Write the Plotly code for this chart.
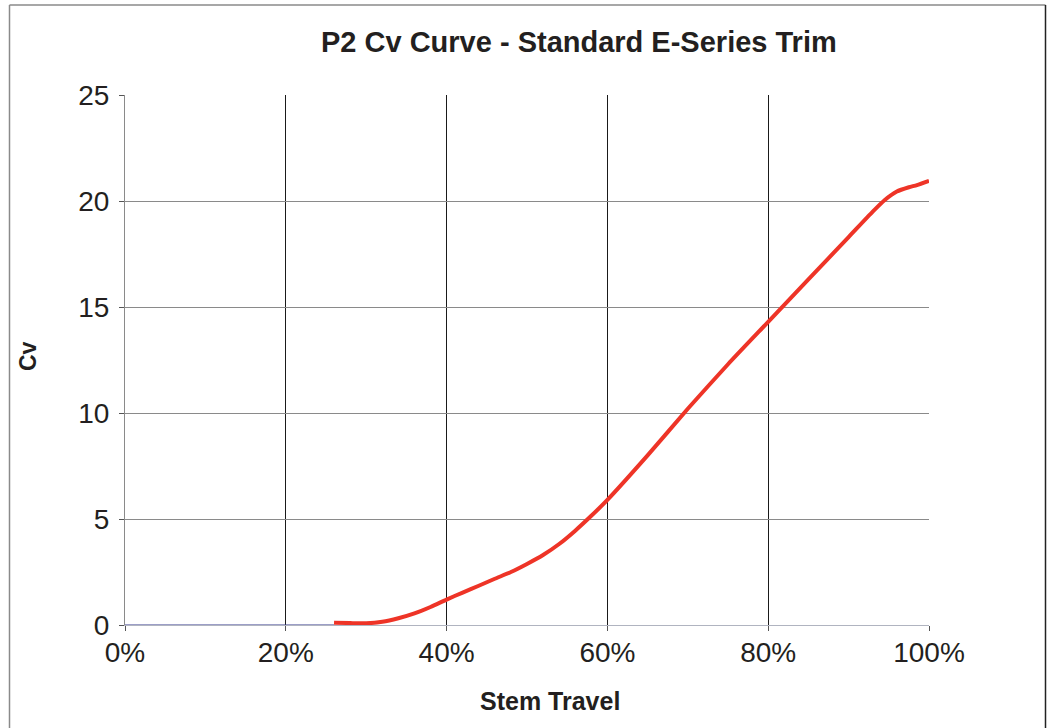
import plotly.graph_objects as go

# ---- data ----
closed_travel = [0.0, 0.26]
closed_cv = [0.0, 0.0]

travel = [0.26, 0.28, 0.30, 0.32, 0.34, 0.36, 0.38, 0.40, 0.42, 0.44, 0.46, 0.48,
          0.50, 0.52, 0.54, 0.56, 0.58, 0.60, 0.65, 0.70, 0.75, 0.80, 0.85, 0.90,
          0.93, 0.945, 0.96, 0.975, 0.985, 1.00]
cv = [0.11, 0.09, 0.08, 0.15, 0.32, 0.55, 0.85, 1.2, 1.53, 1.85, 2.18, 2.5,
      2.88, 3.3, 3.82, 4.45, 5.15, 5.9, 8.0, 10.2, 12.3, 14.3, 16.3, 18.3,
      19.5, 20.05, 20.45, 20.65, 20.75, 20.95]

x_ticks = [0, 0.2, 0.4, 0.6, 0.8, 1.0]
x_labels = ["0%", "20%", "40%", "60%", "80%", "100%"]
y_ticks = [0, 5, 10, 15, 20, 25]

title_text = "P2 Cv Curve - Standard E-Series Trim"
x_title = "Stem Travel"
y_title = "Cv"

FONT = "Liberation Sans, Arial, sans-serif"
W, H = 1047, 728
L, R, T, B = 125, 118, 95, 103
PW, PH = W - L - R, H - T - B


def px_x(p):
    return (p - L) / PW


def px_y(p):
    return (H - B - p) / PH


fig = go.Figure()
fig.add_trace(go.Scatter(x=closed_travel, y=closed_cv, mode="lines",
                         line=dict(color="#3b3f8f", width=1.2),
                         hoverinfo="skip", showlegend=False))
fig.add_trace(go.Scatter(x=travel, y=cv, mode="lines",
                         line=dict(color="#ee3427", width=4, shape="spline", smoothing=0.6),
                         showlegend=False))

fig.update_layout(
    width=W, height=H,
    margin=dict(l=L, r=R, t=T, b=B),
    paper_bgcolor="white", plot_bgcolor="white",
    font=dict(family=FONT, color="#231f20"),
    xaxis=dict(range=[0, 1], tickvals=x_ticks, ticktext=x_labels,
               showgrid=True, gridcolor="#1a1a1a", gridwidth=1,
               showline=True, linecolor="#b0b4c0", linewidth=1,
               ticks="outside", ticklen=5, tickcolor="#555",
               zeroline=False, tickfont=dict(size=28, family=FONT, color="#231f20"),
               ticklabelstandoff=-3, fixedrange=True),
    yaxis=dict(range=[0, 25], tickvals=y_ticks,
               showgrid=True, gridcolor="#8a8a8a", gridwidth=1,
               showline=True, linecolor="#8a8a8a", linewidth=1,
               ticks="outside", ticklen=5, tickcolor="#555",
               zeroline=False, tickfont=dict(size=28, family=FONT, color="#231f20"),
               ticklabelstandoff=4, fixedrange=True),
    annotations=[
        dict(text="<b>" + title_text + "</b>", xref="paper", yref="paper",
             x=px_x(579), y=px_y(42), showarrow=False,
             xanchor="center", yanchor="middle",
             font=dict(size=29, family=FONT, color="#231f20")),
        dict(text="<b>" + x_title + "</b>", xref="paper", yref="paper",
             x=px_x(550), y=px_y(701), showarrow=False,
             xanchor="center", yanchor="middle",
             font=dict(size=25, family=FONT, color="#231f20")),
        dict(text="<b>" + y_title + "</b>", xref="paper", yref="paper",
             x=px_x(28), y=px_y(356), showarrow=False, textangle=-90,
             xanchor="center", yanchor="middle",
             font=dict(size=23, family=FONT, color="#231f20")),
    ],
    shapes=[
        dict(type="line", xref="paper", yref="paper",
             x0=px_x(9.5), x1=px_x(9.5), y0=px_y(5), y1=px_y(740),
             line=dict(color="#8a8a8a", width=1.5)),
        dict(type="line", xref="paper", yref="paper",
             x0=px_x(9.5), x1=px_x(1045.5), y0=px_y(5), y1=px_y(5),
             line=dict(color="#8a8a8a", width=1.5)),
        dict(type="line", xref="paper", yref="paper",
             x0=px_x(1045.5), x1=px_x(1045.5), y0=px_y(5), y1=px_y(740),
             line=dict(color="#222", width=1.5)),
    ],
)

fig.write_html("out.html", config={"displayModeBar": False},
               post_script="document.body.style.margin='0';document.body.style.overflow='hidden';")
